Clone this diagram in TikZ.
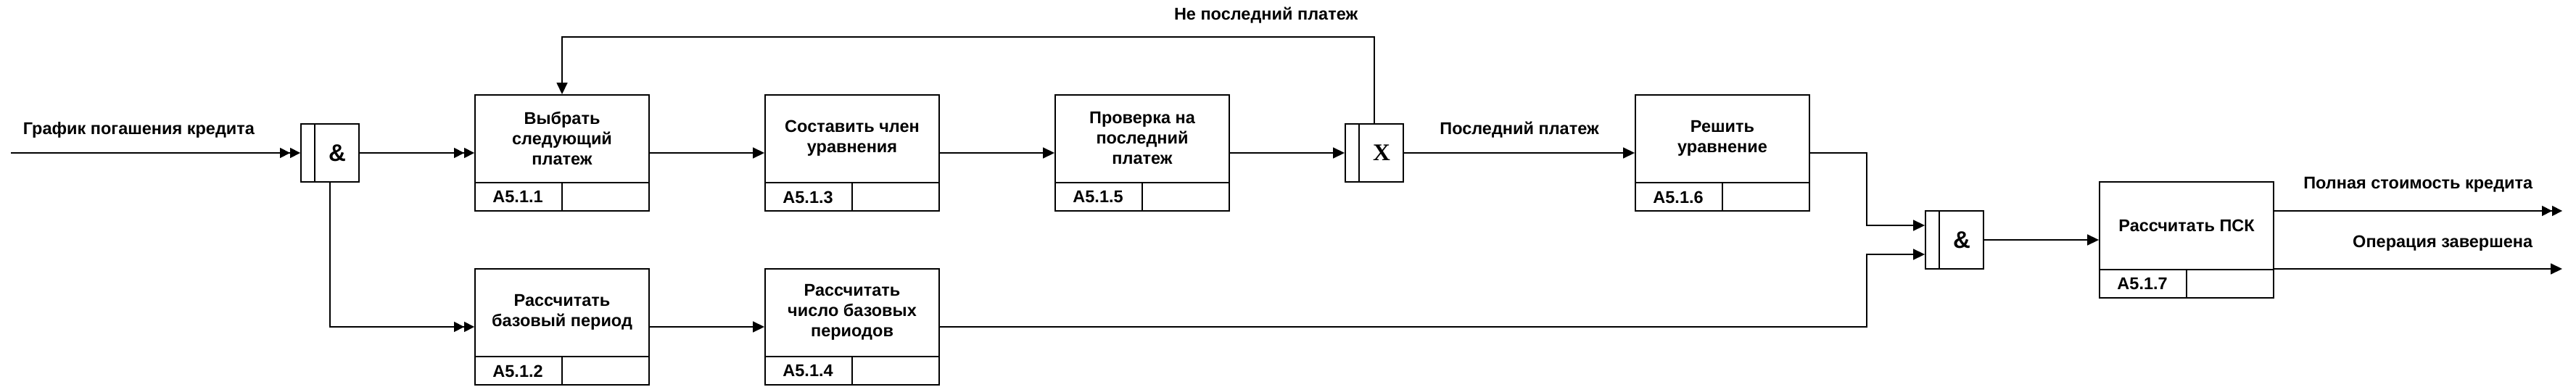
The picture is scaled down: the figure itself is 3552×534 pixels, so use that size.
\documentclass[tikz,border=0pt]{standalone}
\usepackage{fontspec}
\setmainfont{Liberation Sans}
\newfontfamily\gatefont{Liberation Serif}
\usetikzlibrary{arrows.meta}

\begin{document}
\begin{tikzpicture}[
		x=0.5pt, y=-0.5pt,
		font=\fontsize{11.75}{14}\selectfont\bfseries,
		act/.style = {draw, line width=0.95pt, minimum width=120pt, minimum height=80pt, inner sep=0pt},
		gate/.style = {draw, line width=0.95pt, minimum width=40pt, minimum height=40pt, inner sep=0pt},
		arr/.style = {line width=0.8pt, -{Triangle[length=8pt,width=7.5pt]}},
		dbl/.style = {line width=0.8pt, -{Triangle[length=7pt,width=7pt,sep=0pt] Triangle[length=7pt,width=7pt]}},
		lbl/.style = {inner sep=0pt, anchor=base},
		]
		\useasboundingbox (0,0) rectangle (3552,534);
		% activity boxes
		\foreach \nm/\x/\y/\txt/\idx in {
			b1/775/211/{Выбрать\\следующий\\платеж}/A5.1.1,
			b2/1175/211/{Составить член\\уравнения}/A5.1.3,
			b3/1575/211/{Проверка на\\последний\\платеж}/A5.1.5,
			b4/2375/211/{Решить\\уравнение}/A5.1.6,
			b5/3015/331/{Рассчитать ПСК}/A5.1.7,
			b6/775/451/{Рассчитать\\базовый период}/A5.1.2,
			b7/1175/451/{Рассчитать\\число базовых\\периодов}/A5.1.4}
		{
			\node[act] (\nm) at (\x,\y) {};
			\node[align=center, inner sep=0pt] at ([yshift=10pt]\nm.center) {\txt};
			\draw[line width=0.95pt] ([yshift=20pt]\nm.south west) -- ([yshift=20pt]\nm.south east);
			\draw[line width=0.95pt] ([yshift=20pt]\nm.south) -- (\nm.south);
			\node at ([xshift=30pt,yshift=10pt]\nm.south west) {\idx};
		}
		% junctions
		\foreach \nm/\x/\y/\sym in {j1/455/211/{\&}, x1/1895/211/{\gatefont X}, j2/2695/331/{\&}}
		{
			\node[gate] (\nm) at (\x,\y) {};
			\draw[line width=0.95pt] ([xshift=10pt]\nm.north west) -- ([xshift=10pt]\nm.south west);
			\node[font=\fontsize{16.5}{18}\selectfont\bfseries] at ([xshift=5pt]\nm.center) {\sym};
		}
		% arrows
		\coordinate (in) at (15,211);
		\coordinate (fb) at (1895,51);
		\coordinate (o1) at (3533,291);
		\coordinate (o2) at (3533,371);
		\draw[dbl] (in) node[lbl, anchor=base west, xshift=8pt, yshift=12.5pt] {График погашения кредита} -- (j1.west);
		\draw[dbl] (j1.east) -- (b1.west);
		\draw[dbl] (j1.south) |- (b6.west);
		\draw[arr] (b1.east) -- (b2.west);
		\draw[arr] (b2.east) -- (b3.west);
		\draw[arr] (b3.east) -- (x1.west);
		\draw[arr] (x1.east) -- node[lbl, yshift=12.5pt] {Последний платеж} (b4.west);
		\draw[arr] (x1.north) -- (fb) node[lbl, anchor=base east, xshift=-11pt, yshift=11.5pt] {Не последний платеж} -| (b1.north);
		\draw[arr] (b6.east) -- (b7.west);
		\draw[arr] (b4.east) -| ([xshift=-40pt,yshift=10pt]j2.west) -- ([yshift=10pt]j2.west);
		\draw[arr] (b7.east) -| ([xshift=-40pt,yshift=-10pt]j2.west) -- ([yshift=-10pt]j2.west);
		\draw[arr] (j2.east) -- (b5.west);
		\draw[dbl] ([yshift=20pt]b5.east) -- (o1) node[lbl, anchor=base east, xshift=-20pt, yshift=15pt] {Полная стоимость кредита};
		\draw[arr] ([yshift=-20pt]b5.east) -- (o2) node[lbl, anchor=base east, xshift=-20pt, yshift=15pt] {Операция завершена};
	\end{tikzpicture}
\end{document}
